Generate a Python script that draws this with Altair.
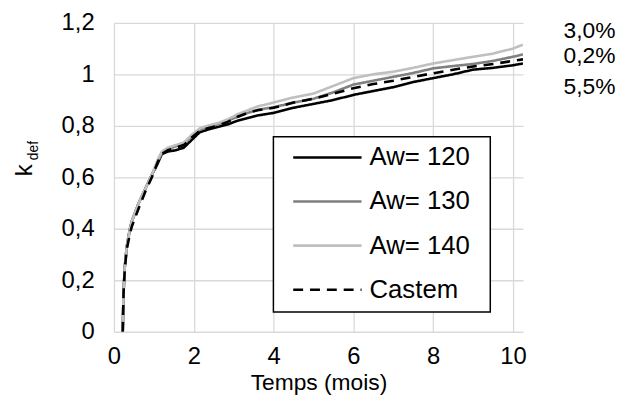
import altair as alt
import pandas as pd

# time grid (months)
t = [0.22, 0.24, 0.27, 0.32, 0.4, 0.45, 0.62, 0.8, 0.95, 1.1, 1.2, 1.35, 1.55, 1.75,
     1.95, 2.15, 2.35, 2.6, 2.85, 3.1, 3.35, 3.6, 4.0, 4.5, 5.0, 5.5, 6.0, 6.5, 7.0,
     7.5, 8.0, 8.5, 9.0, 9.5, 10.0, 10.25]

aw120 = [0, 0.15, 0.25, 0.33, 0.40, 0.43, 0.50, 0.56, 0.61, 0.655, 0.69, 0.70, 0.705, 0.715,
         0.745, 0.775, 0.785, 0.795, 0.805, 0.82, 0.83, 0.84, 0.85, 0.87, 0.885, 0.90, 0.92,
         0.935, 0.95, 0.97, 0.985, 1.0, 1.018, 1.025, 1.035, 1.042]
aw130 = [0, 0.15, 0.25, 0.33, 0.40, 0.43, 0.50, 0.56, 0.61, 0.66, 0.695, 0.71, 0.72, 0.73,
         0.76, 0.785, 0.795, 0.805, 0.82, 0.835, 0.85, 0.862, 0.872, 0.89, 0.905, 0.93, 0.96,
         0.975, 0.99, 1.005, 1.023, 1.032, 1.040, 1.052, 1.068, 1.077]
aw140 = [0, 0.15, 0.25, 0.33, 0.40, 0.43, 0.50, 0.56, 0.61, 0.67, 0.70, 0.715, 0.725, 0.735,
         0.765, 0.79, 0.80, 0.81, 0.825, 0.845, 0.86, 0.875, 0.89, 0.91, 0.925, 0.955, 0.985,
         1.0, 1.01, 1.025, 1.042, 1.055, 1.068, 1.08, 1.10, 1.115]
castem = [0, 0.15, 0.24, 0.32, 0.38, 0.41, 0.48, 0.55, 0.60, 0.66, 0.69, 0.705, 0.715, 0.725,
          0.755, 0.78, 0.79, 0.80, 0.815, 0.835, 0.85, 0.86, 0.87, 0.89, 0.905, 0.925, 0.946,
          0.962, 0.975, 0.99, 1.004, 1.018, 1.03, 1.04, 1.052, 1.058]

series_names = ["Aw= 120", "Aw= 130", "Aw= 140", "Castem"]
series_vals = [aw120, aw130, aw140, castem]
colors = ["#000000", "#7f7f7f", "#bfbfbf", "#000000"]
dashes = [[1, 0], [1, 0], [1, 0], [10, 7]]

end_labels = ["3,0%", "0,2%", "5,5%"]
x_ticks = [0, 2, 4, 6, 8, 10]
y_ticks = [0, 0.2, 0.4, 0.6, 0.8, 1.0, 1.2]

rows = []
for name, vals in zip(series_names, series_vals):
    for i, (xx, yy) in enumerate(zip(t, vals)):
        rows.append({"series": name, "t": xx, "k": yy, "i": i})
df = pd.DataFrame(rows)
one = pd.DataFrame({"a": [0]})

W, H = 413, 312
FONT = "Liberation Sans"

x_enc = alt.X("t:Q", scale=alt.Scale(domain=[0, 10.25], nice=False),
              axis=alt.Axis(values=x_ticks, title="Temps (mois)", grid=True,
                            domain=False, ticks=False, labelPadding=13,
                            titlePadding=3, labelFlush=False))
y_enc = alt.Y("k:Q", scale=alt.Scale(domain=[0, 1.2], nice=False),
              axis=alt.Axis(values=y_ticks, title=None, grid=True, domain=False,
                            ticks=False, labelPadding=20,
                            labelExpr="replace(format(datum.value, '~g'), '.', ',')"))

lines = alt.Chart(df).mark_line(strokeWidth=2.6, clip=True, interpolate="linear").encode(
    x=x_enc,
    y=y_enc,
    color=alt.Color("series:N", scale=alt.Scale(domain=series_names, range=colors), legend=None),
    strokeDash=alt.StrokeDash("series:N", scale=alt.Scale(domain=series_names, range=dashes), legend=None),
    order="i:Q",
)

# legend box drawn manually
box = alt.Chart(one).mark_rect(fill="white", stroke="black", strokeWidth=1.5).encode(
    x=alt.value(161), x2=alt.value(380), y=alt.value(115), y2=alt.value(292))

layers = [lines, box]
for j, name in enumerate(series_names):
    yy = 136 + 44.5 * j
    layers.append(alt.Chart(one).mark_rule(color=colors[j], strokeWidth=2.6, strokeDash=dashes[j]).encode(
        x=alt.value(181), x2=alt.value(250), y=alt.value(yy)))
    layers.append(alt.Chart(one).mark_text(text=name, align="left", baseline="middle",
                                           font=FONT, fontSize=26, color="black").encode(
        x=alt.value(258), y=alt.value(yy)))

for j, (lab, yy) in enumerate(zip(end_labels, [8, 34, 65])):
    layers.append(alt.Chart(one).mark_text(text=lab, align="left", baseline="middle",
                                           font=FONT, fontSize=23, color="black").encode(
        x=alt.value(454), y=alt.value(yy)))

# y-axis title k_def with subscript
layers.append(alt.Chart(one).mark_text(text="k", angle=270, align="center", baseline="alphabetic",
                                       font=FONT, fontSize=24, color="black").encode(
    x=alt.value(-83), y=alt.value(149)))
layers.append(alt.Chart(one).mark_text(text="def", angle=270, align="center", baseline="alphabetic",
                                       font=FONT, fontSize=14, color="black").encode(
    x=alt.value(-77), y=alt.value(129)))

chart = alt.layer(*layers).properties(
    width=W, height=H,
    autosize=alt.AutoSizeParams(type="none"),
    padding={"left": 107, "top": 13, "right": 100, "bottom": 70},
).configure_view(stroke=None).configure_axis(
    gridColor="#d9d9d9", gridWidth=1.3, labelFont=FONT, labelFontSize=24,
    labelColor="black", titleFont=FONT, titleFontSize=23, titleColor="black",
    titleFontWeight="normal",
)

chart.save("out.html", embed_options={"renderer": "svg", "actions": False})
